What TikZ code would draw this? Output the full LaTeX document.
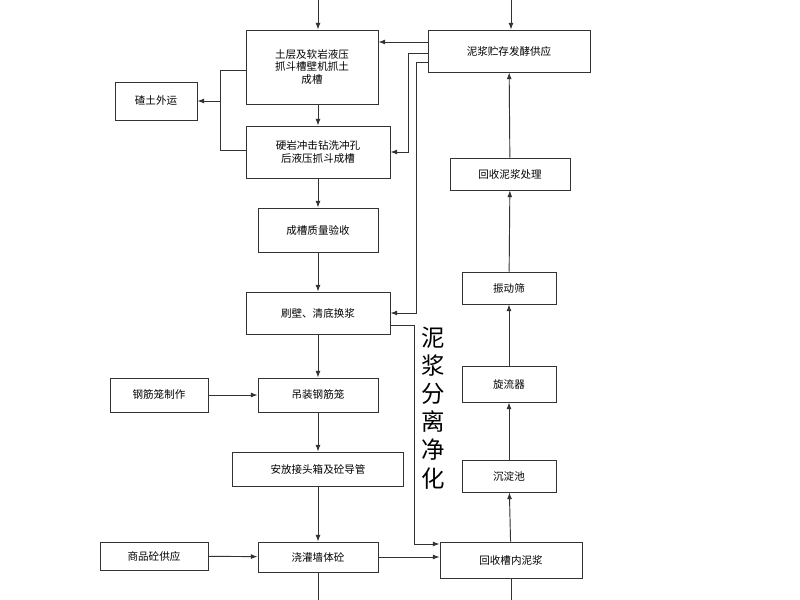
\documentclass[tikz,border=0pt]{standalone}
\usepackage{fontspec}
\setmainfont{Noto Sans CJK SC}
\usetikzlibrary{positioning, arrows.meta}
\tikzstyle{stage} = [draw=black!80, thick, rectangle, align=center, font=\fontsize{9}{11}\selectfont, inner sep=2pt]
\tikzstyle{flow} = [draw=black!80, thick, -{Latex[length=2mm]}]

\begin{document}
\begin{tikzpicture}[x=0.03cm, y=-0.03cm]
	\useasboundingbox (0,0) rectangle (800,600);
	%left column
	\node[stage, minimum width=132*0.03cm, minimum height=74*0.03cm] (soil) at (312,67) {土层及软岩液压\\抓斗槽壁机抓土\\成槽};
	\node[stage, minimum width=82*0.03cm, minimum height=38*0.03cm] (haul) at (156,101) {碴土外运};
	\node[stage, minimum width=144*0.03cm, minimum height=52*0.03cm] (rock) at (318,152) {硬岩冲击钻洗冲孔\\后液压抓斗成槽};
	\node[stage, minimum width=120*0.03cm, minimum height=44*0.03cm] (check) at (318,230) {成槽质量验收};
	\node[stage, minimum width=144*0.03cm, minimum height=42*0.03cm] (brush) at (318,313) {刷壁、清底换浆};
	\node[stage, minimum width=98*0.03cm, minimum height=34*0.03cm] (cagemk) at (159,395) {钢筋笼制作};
	\node[stage, minimum width=120*0.03cm, minimum height=34*0.03cm] (cage) at (318,395) {吊装钢筋笼};
	\node[stage, minimum width=171*0.03cm, minimum height=34*0.03cm] (pipe) at (318,469) {安放接头箱及砼导管};
	\node[stage, minimum width=108*0.03cm, minimum height=28*0.03cm] (conc) at (154,556) {商品砼供应};
	\node[stage, minimum width=120*0.03cm, minimum height=30*0.03cm] (pour) at (318,557) {浇灌墙体砼};
	%right column
	\node[stage, minimum width=142*0.03cm, minimum height=36*0.03cm] (recov) at (511,560) {回收槽内泥浆};
	\node[stage, minimum width=94*0.03cm, minimum height=32*0.03cm] (tank) at (509,476) {沉淀池};
	\node[stage, minimum width=94*0.03cm, minimum height=36*0.03cm] (cyclone) at (509,384) {旋流器};
	\node[stage, minimum width=94*0.03cm, minimum height=32*0.03cm] (screen) at (509,288) {振动筛};
	\node[stage, minimum width=120*0.03cm, minimum height=32*0.03cm] (treat) at (510,174) {回收泥浆处理};
	\node[stage, minimum width=162*0.03cm, minimum height=42*0.03cm] (store) at (509,51) {泥浆贮存发酵供应};
	\node[font=\fontsize{20}{24}\selectfont, align=center] (sep) at (433,408) {泥\\浆\\分\\离\\净\\化};
	\coordinate (topL) at (318,0);
	\coordinate (topR) at (511,0);
	\coordinate (botL) at (318,600);
	\coordinate (botR) at (511,600);
	\coordinate (fork) at (220,101);

	%main flow
	\draw[flow] (topL) -- (soil.north -| topL);
	\draw[flow] (soil.south -| topL) -- (rock);
	\draw[flow] (rock) -- (check);
	\draw[flow] (check) -- (brush);
	\draw[flow] (brush) -- (cage);
	\draw[flow] (cage) -- (pipe);
	\draw[flow] (pipe) -- (pour);
	\draw[thick, draw=black!80] (pour) -- (botL);
	\draw[flow] (cagemk) -- (cage);
	\draw[flow] (conc) -- (pour);
	\draw[thick, draw=black!80] (soil.west |- 0,70) -- (220,70) -- (220,150) -- (rock.west |- 0,150);
	\draw[flow] (fork) -- (haul);
	%mud flow
	\draw[flow] (pour) -- (recov.west |- pour);
	\draw[flow] (brush.east |- 0,325) -- (414,325) -- (414,544) -- (recov.west |- 0,544);
	\draw[flow] (recov) -- (tank);
	\draw[flow] (tank) -- (cyclone);
	\draw[flow] (cyclone) -- (screen);
	\draw[flow] (screen) -- (treat);
	\draw[flow] (treat) -- (store);
	\draw[thick, draw=black!80] (recov) -- (botR);
	\draw[flow] (topR) -- (store.north -| topR);
	\draw[flow] (store.west |- 0,42) -- (soil.east |- 0,42);
	\draw[flow] (store.west |- 0,53) -- (408,53) -- (408,152) -- (rock.east |- 0,152);
	\draw[flow] (store.west |- 0,62) -- (416,62) -- (416,313) -- (brush.east |- 0,313);
\end{tikzpicture}
\end{document}
